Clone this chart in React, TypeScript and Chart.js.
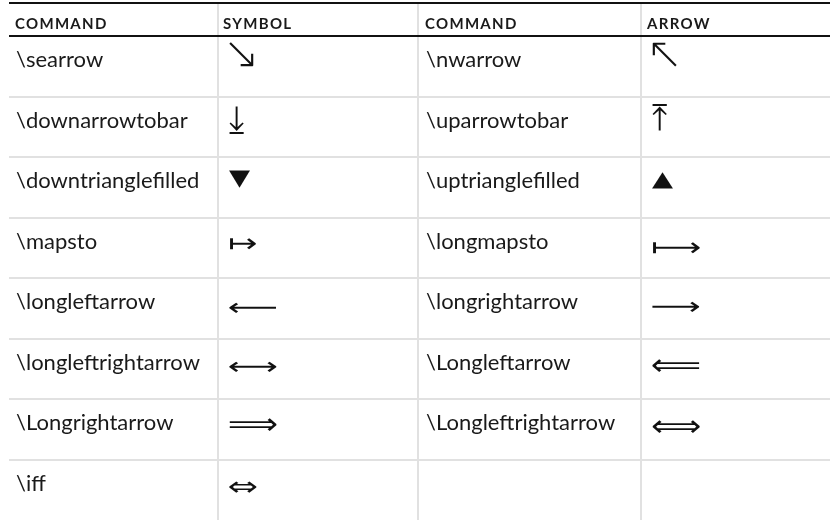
import React, { useEffect, useRef } from "react";
import { Chart, registerables } from "chart.js";
Chart.register(...registerables);

// ---- data ----
const headers = ["COMMAND", "SYMBOL", "COMMAND", "ARROW"];
const leftCommands = ["\\searrow", "\\downarrowtobar", "\\downtrianglefilled", "\\mapsto", "\\longleftarrow", "\\longleftrightarrow", "\\Longrightarrow", "\\iff"];
const leftSymbols = ["↘", "⤓", "▼", "↦", "⟵", "⟷", "⟹", "⇔"];
const rightCommands = ["\\nwarrow", "\\uparrowtobar", "\\uptrianglefilled", "\\longmapsto", "\\longrightarrow", "\\Longleftarrow", "\\Longleftrightarrow", ""];
const rightSymbols = ["↖", "⤒", "▲", "⟼", "⟶", "⟸", "⟺", ""];

// ---- layout / style (not data) ----
const colEdges = [9, 218, 418, 641, 830];
const headerX = [15, 223, 425, 647];
const bodyX = [16, 229, 426, 652];
// symbol box: width, height (px), vertical centre as fraction of row, font weight
const symStyle: Record<string, { w: number; h: number; cy: number; wt: number }> = {
  "↘": { w: 25, h: 25, cy: 0.3, wt: 200 },
  "↖": { w: 25, h: 25, cy: 0.29, wt: 200 },
  "⤓": { w: 15, h: 28, cy: 0.377, wt: 400 },
  "⤒": { w: 15, h: 27, cy: 0.352, wt: 400 },
  "▼": { w: 21, h: 18, cy: 0.36, wt: 400 },
  "▲": { w: 21, h: 17, cy: 0.375, wt: 400 },
  "↦": { w: 27, h: 12, cy: 0.437, wt: 400 },
  "⟼": { w: 48, h: 12, cy: 0.5, wt: 400 },
  "⟵": { w: 48, h: 11, cy: 0.494, wt: 400 },
  "⟶": { w: 48, h: 11, cy: 0.478, wt: 400 },
  "⟷": { w: 48, h: 11, cy: 0.47, wt: 400 },
  "⟸": { w: 48, h: 14, cy: 0.453, wt: 400 },
  "⟹": { w: 48, h: 14, cy: 0.43, wt: 400 },
  "⟺": { w: 48, h: 14, cy: 0.463, wt: 400 },
  "⇔": { w: 28, h: 12, cy: 0.463, wt: 400 },
};

const tablePlugin = {
  id: "tablePlugin",
  beforeDraw(chart: any) {
    const { ctx, width, height } = chart;
    ctx.save();
    ctx.fillStyle = "#ffffff";
    ctx.fillRect(0, 0, width, height);
    ctx.restore();
  },
  afterDatasetsDraw(chart: any) {
    const ctx = chart.ctx as CanvasRenderingContext2D;
    const xs = chart.scales.x;
    const ys = chart.scales.y;
    const X = (v: number) => xs.getPixelForValue(v);
    const Y = (v: number) => ys.getPixelForValue(v);
    const nRows = leftCommands.length;
    const x0 = X(colEdges[0]);
    const x1 = X(colEdges[colEdges.length - 1]);
    ctx.save();
    // vertical grey lines
    ctx.strokeStyle = "#e1e1e1";
    ctx.lineWidth = 2;
    for (let c = 1; c < colEdges.length - 1; c++) {
      const x = Math.round(X(colEdges[c]));
      ctx.beginPath();
      ctx.moveTo(x, Y(-0.545));
      ctx.lineTo(x, Y(nRows));
      ctx.stroke();
    }
    // row lines
    for (let r = 1; r < nRows; r++) {
      const y = Math.round(Y(r));
      ctx.beginPath();
      ctx.moveTo(x0, y);
      ctx.lineTo(x1, y);
      ctx.stroke();
    }
    // black header lines
    ctx.strokeStyle = "#111111";
    ctx.lineWidth = 2;
    [-0.545, 0].forEach((v) => {
      const y = Math.round(Y(v));
      ctx.beginPath();
      ctx.moveTo(x0, y);
      ctx.lineTo(x1, y);
      ctx.stroke();
    });
    // header text
    ctx.fillStyle = "#1a1a1a";
    ctx.textBaseline = "alphabetic";
    ctx.font = "bold 15px Lato, 'Open Sans', sans-serif";
    (ctx as any).letterSpacing = "1.3px";
    headers.forEach((h, c) => {
      ctx.fillText(h, X(headerX[c]), Y(-0.12));
    });
    (ctx as any).letterSpacing = "0px";
    // body text + symbols
    const cols = [leftCommands, leftSymbols, rightCommands, rightSymbols];
    cols.forEach((arr, c) => {
      arr.forEach((txt, r) => {
        if (!txt) return;
        const xl = X(bodyX[c]);
        if (c % 2 === 0) {
          ctx.font = "22px Lato, 'Open Sans', sans-serif";
          ctx.fillStyle = "#1a1a1a";
          ctx.textBaseline = "alphabetic";
          ctx.fillText(txt, xl, Y(r + 0.513));
        } else {
          const st = symStyle[txt] || { w: 30, h: 14, cy: 0.45, wt: 400 };
          ctx.font = `${st.wt} 30px 'DejaVu Sans', sans-serif`;
          ctx.fillStyle = "#111111";
          ctx.textBaseline = "alphabetic";
          const m = ctx.measureText(txt);
          const gl = -m.actualBoundingBoxLeft;
          const gw = Math.max(1, m.actualBoundingBoxRight + m.actualBoundingBoxLeft);
          const gt = -m.actualBoundingBoxAscent;
          const gh = Math.max(1, m.actualBoundingBoxAscent + m.actualBoundingBoxDescent);
          const sx = st.w / gw;
          const sy = st.h / gh;
          const cyPix = Y(r + st.cy);
          ctx.save();
          ctx.translate(xl, cyPix - st.h / 2);
          ctx.scale(sx, sy);
          ctx.fillText(txt, -gl, -gt);
          ctx.restore();
        }
      });
    });
    ctx.restore();
  },
};

export default function App() {
  const ref = useRef<HTMLCanvasElement | null>(null);
  useEffect(() => {
    if (!ref.current) return;
    const points: { x: number; y: number }[] = [];
    [leftCommands, leftSymbols, rightCommands, rightSymbols].forEach((arr, c) =>
      arr.forEach((_, r) => points.push({ x: (colEdges[c] + colEdges[c + 1]) / 2, y: r + 0.5 }))
    );
    const chart = new Chart(ref.current, {
      type: "scatter",
      data: { datasets: [{ data: points, pointRadius: 0, pointHoverRadius: 0 }] },
      options: {
        animation: false,
        responsive: false,
        events: [],
        layout: { padding: 0 },
        plugins: { legend: { display: false }, tooltip: { enabled: false } },
        scales: {
          x: { type: "linear", min: 0, max: 830, display: false },
          y: { type: "linear", min: -0.6, max: 8, reverse: true, display: false },
        },
      },
      plugins: [tablePlugin],
    });
    return () => chart.destroy();
  }, []);
  return (
    <div style={{ position: "fixed", left: 0, top: 0, width: 830, height: 520, background: "#fff" }}>
      <canvas ref={ref} width={830} height={520} style={{ width: 830, height: 520, display: "block" }} />
    </div>
  );
}
